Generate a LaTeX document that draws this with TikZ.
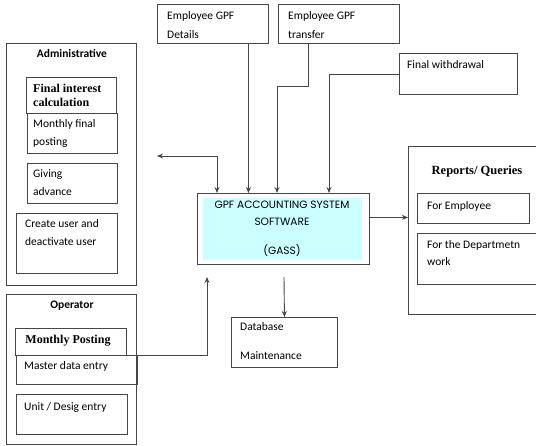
\documentclass[tikz,border=0pt]{standalone}
\usepackage{fontspec}
\setmainfont{Carlito}
\newfontfamily\tnr{Liberation Serif}
\newfontfamily\gothic{Poppins}
\usetikzlibrary{arrows.meta}
\definecolor{ln}{RGB}{70,70,70}
\definecolor{gassfill}{RGB}{204,255,255}
\tikzset{
  box/.style={draw=ln, line width=0.9pt, anchor=north west, inner sep=0pt},
  txt/.style={anchor=west, inner sep=0pt, font=\fontsize{11.5}{14}\selectfont, text height=8pt, text depth=2.5pt},
  hd/.style={anchor=center, inner sep=0pt, font=\fontsize{11.5}{14}\selectfont\bfseries, text height=8pt, text depth=2.5pt},
  tb/.style={anchor=west, inner sep=0pt, font=\fontsize{12}{14}\tnr\bfseries, text height=8pt, text depth=2.5pt},
  gt/.style={anchor=center, inner sep=0pt, font=\fontsize{10.6}{12}\gothic, text height=7.5pt, text depth=2pt},
  arr/.style={draw=ln, line width=0.9pt, -{Stealth[length=6pt,width=5pt]}},
  dbl/.style={draw=ln, line width=0.9pt, {Stealth[length=6pt,width=5pt]}-{Stealth[length=6pt,width=5pt]}},
  ln/.style={draw=ln, line width=0.9pt}
}
\begin{document}
\begin{tikzpicture}[x=1pt,y=-1pt]
\useasboundingbox (0,0) rectangle (536,445);
% top boxes
\node[box, minimum width=111pt, minimum height=39pt] (details) at (157,4) {};
\node[box, minimum width=121pt, minimum height=39pt] (transfer) at (278,4) {};
\node[box, minimum width=118pt, minimum height=41pt] (fw) at (399,53) {};
\node[txt] (t1) at (167,17) {Employee GPF};
\node[txt] (t2) at (167,36) {Details};
\node[txt] (t3) at (288,17) {Employee GPF};
\node[txt] (t4) at (288,36) {transfer};
\node[txt] (t5) at (407,66) {Final withdrawal};
% administrative
\node[box, minimum width=130pt, minimum height=242pt] (admin) at (6,43) {};
\node[hd] (adminlbl) at (72,55) {Administrative};
\node[box, minimum width=90pt, minimum height=36pt] (fic) at (26,77) {};
\node[box, minimum width=90pt, minimum height=40pt] (mfp) at (27,113) {};
\node[box, minimum width=90pt, minimum height=40pt] (ga) at (27,163) {};
\node[box, minimum width=101pt, minimum height=60pt] (cu) at (16,213) {};
\node[tb] (t6) at (33,90) {Final interest};
\node[tb] (t7) at (33,104) {calculation};
\node[txt] (t8) at (33,125) {Monthly final};
\node[txt] (t9) at (33,143) {posting};
\node[txt] (t10) at (33,175) {Giving};
\node[txt] (t11) at (33,193) {advance};
\node[txt] (t12) at (25,225) {Create user and};
\node[txt] (t13) at (25,243) {deactivate user};
% operator
\node[box, minimum width=130pt, minimum height=150pt] (oper) at (6,294) {};
\node[hd] (operlbl) at (72,306) {Operator};
\node[box, minimum width=111pt, minimum height=27pt] (mp) at (15,328) {};
\node[box, minimum width=121pt, minimum height=29pt] (master) at (16,355) {};
\node[box, minimum width=111pt, minimum height=40pt] (unit) at (16,394) {};
\node[tb, anchor=center] (t14) at (68,341) {Monthly Posting};
\node[txt] (t15) at (24,367) {Master data entry};
\node[txt] (t16) at (24,408) {Unit / Desig entry};
% GASS
\node[box, minimum width=172pt, minimum height=71pt] (gass) at (197,193) {};
\node[box, draw=none, fill=gassfill, minimum width=159pt, minimum height=62pt] (gassin) at (203,198) {};
\node[gt] (g1) at (282,206) {GPF ACCOUNTING SYSTEM};
\node[gt] (g2) at (282,223) {SOFTWARE};
\node[gt] (g3) at (282,252) {(GASS)};
% database
\node[box, minimum width=106pt, minimum height=50pt] (db) at (231,317) {};
\node[txt] (t17) at (240,328) {Database};
\node[txt] (t18) at (240,357) {Maintenance};
% reports
\node[box, minimum width=140pt, minimum height=168pt] (rep) at (408,146) {};
\node[tb, anchor=center, font=\fontsize{12.5}{14}\tnr\bfseries] (replbl) at (477,172) {Reports/ Queries};
\node[box, minimum width=112pt, minimum height=30pt] (fe) at (417,193) {};
\node[box, minimum width=130pt, minimum height=51pt] (fd) at (417,233) {};
\node[txt] (t19) at (427,207) {For Employee};
\node[txt] (t20) at (427,246) {For the Departmetn};
\node[txt] (t21) at (427,263) {work};
% connectors
\draw[arr] ([xshift=35.5pt]details.south) -- ([xshift=35.5pt]details.south |- gass.north);
\coordinate (tbend) at (277,86);
\draw[arr] ([xshift=-30.5pt]transfer.south) |- (tbend) -- (tbend |- gass.north);
\coordinate (fwx) at (329,100);
\draw[arr] (fw.west) -| (fwx |- gass.north);
\coordinate (admtip) at (157,156);
\coordinate (abend) at (217,156);
\draw[dbl] (admtip) -- (abend) -- (abend |- gass.north);
\draw[arr] ([yshift=11.5pt]gass.east) -- ([yshift=11.5pt]gass.east -| rep.west);
\coordinate (dbstart) at (284,277);
\draw[arr] (dbstart) -- (db.north);
\coordinate (gup) at (207,277);
\draw[arr] (master.north east) -| (gup);
\end{tikzpicture}
\end{document}
